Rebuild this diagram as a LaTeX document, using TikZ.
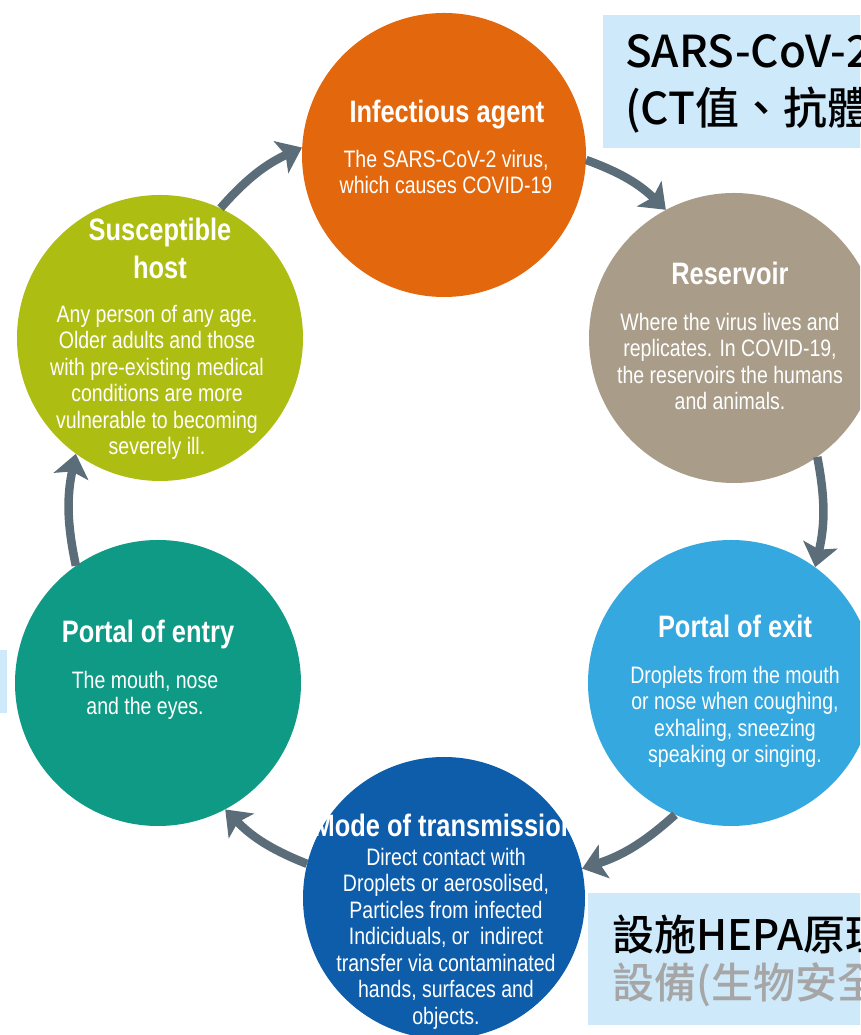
\documentclass[tikz,border=0pt]{standalone}
\usepackage{fontspec}
\setmainfont{Liberation Sans}
\newfontfamily\narrow[FakeStretch=0.82]{Liberation Sans}
\newfontfamily\cjk{Noto Sans CJK TC Medium}
\usetikzlibrary{arrows.meta}
\definecolor{cagent}{HTML}{E3670D}
\definecolor{cres}{HTML}{A99D89}
\definecolor{cexit}{HTML}{35A8E0}
\definecolor{ctrans}{HTML}{0E5DAA}
\definecolor{centry}{HTML}{0E9A84}
\definecolor{chost}{HTML}{AEBD12}
\definecolor{carrow}{HTML}{5B6D79}
\definecolor{cnote}{HTML}{CDE9FA}
\definecolor{cgraytext}{HTML}{A6A6A6}
\begin{document}
\begin{tikzpicture}[x=1pt,y=1pt,
  disc/.style={circle, inner sep=0pt, minimum size=#1, draw=none},
  ttl/.style={font=\narrow\bfseries\fontsize{31}{38}\selectfont, text=white, align=center, inner sep=0pt, anchor=base},
  ttltwo/.style={font=\narrow\bfseries\fontsize{31}{38}\selectfont, text=white, align=center, inner sep=0pt, anchor=north},
  body/.style={font=\narrow\fontsize{23.8}{26.5}\selectfont, text=white, align=center, inner sep=0pt, anchor=north},
  arr/.style={draw=carrow, line width=8.5pt, -{Stealth[length=23pt,width=35pt,inset=5pt]}, bend left=12},
  note/.style={fill=cnote, draw=none, inner sep=0pt},
  notetext/.style={font=\cjk\fontsize{44}{57}\selectfont, inner sep=0pt, anchor=base west}]
\useasboundingbox (0,0) rectangle (860,1035);
\clip (0,0) rectangle (860,1035);

% circles
\node[disc=284pt, fill=cagent] (agent) at (444,880) {};
\node[disc=290pt, fill=cres] (res) at (734,697) {};
\node[disc=286pt, fill=cexit] (exit) at (731,352) {};
\node[disc=282pt, fill=ctrans] (trans) at (444,137) {};
\node[disc=286pt, fill=centry] (entry) at (158,352) {};
\node[disc=286pt, fill=chost] (host) at (160,697) {};

% arrows
\draw[arr] (host.65) to (agent.177);
\draw[arr] (agent.-2) to (res.118);
\draw[arr] (res.-55) to (exit.54);
\draw[arr] (exit.-113) to (trans.12);
\draw[arr] (trans.166) to (entry.-62);
\draw[arr] (entry.125) to (host.-126);

% texts
\node[ttl] (agentT) at (447,912) {Infectious agent};
\node[body] (agentB) at (446,893) {\rule{0pt}{25pt}The SARS-CoV-2 virus,\\which causes COVID-19};

\node[ttl] (resT) at (730,750) {Reservoir};
\node[body] (resB) at (730,730) {\rule{0pt}{25pt}Where the virus lives and\\replicates. In COVID-19,\\the reservoirs the humans\\and animals.};

\node[ttl] (exitT) at (735,397) {Portal of exit};
\node[body] (exitB) at (735,377) {\rule{0pt}{25pt}Droplets from the mouth\\or nose when coughing,\\exhaling, sneezing\\speaking or singing.};

\node[ttl] (entryT) at (148,392) {Portal of entry};
\node[body] (entryB) at (145,372) {\rule{0pt}{25pt}The mouth, nose\\and the eyes.};

\node[ttltwo] (hostT) at (160,825) {\rule{0pt}{30pt}Susceptible\\host};
\node[body] (hostB) at (157,738) {\rule{0pt}{25pt}Any person of any age.\\Older adults and those\\with pre-existing medical\\conditions are more\\vulnerable to becoming\\severely ill.};

\node[ttl] (transT) at (445,198) {Mode of transmission};
\node[body] (transB) at (446,195) {\rule{0pt}{25pt}Direct contact with\\Droplets or aerosolised,\\Particles from infected\\Indiciduals, or\ \ indirect\\transfer via contaminated\\hands, surfaces and\\objects.};

% note boxes
\node[note, minimum width=270pt, minimum height=133pt, anchor=south west] (noteTop) at (603,887) {};
\node[notetext] (noteTopA) at (625,967) {SARS-CoV-2};
\node[notetext] (noteTopB) at (625,910) {(CT值、抗體};

\node[note, minimum width=285pt, minimum height=132pt, anchor=south west] (noteBot) at (588,10) {};
\node[notetext, font=\cjk\fontsize{42}{44}\selectfont] (noteBotA) at (612,84) {設施HEPA原理};
\node[notetext, font=\cjk\fontsize{42}{44}\selectfont, text=cgraytext] (noteBotB) at (612,36) {設備(生物安全};

\node[note, minimum width=20pt, minimum height=63pt, anchor=south east] (noteLeft) at (7,322) {};
\end{tikzpicture}
\end{document}
